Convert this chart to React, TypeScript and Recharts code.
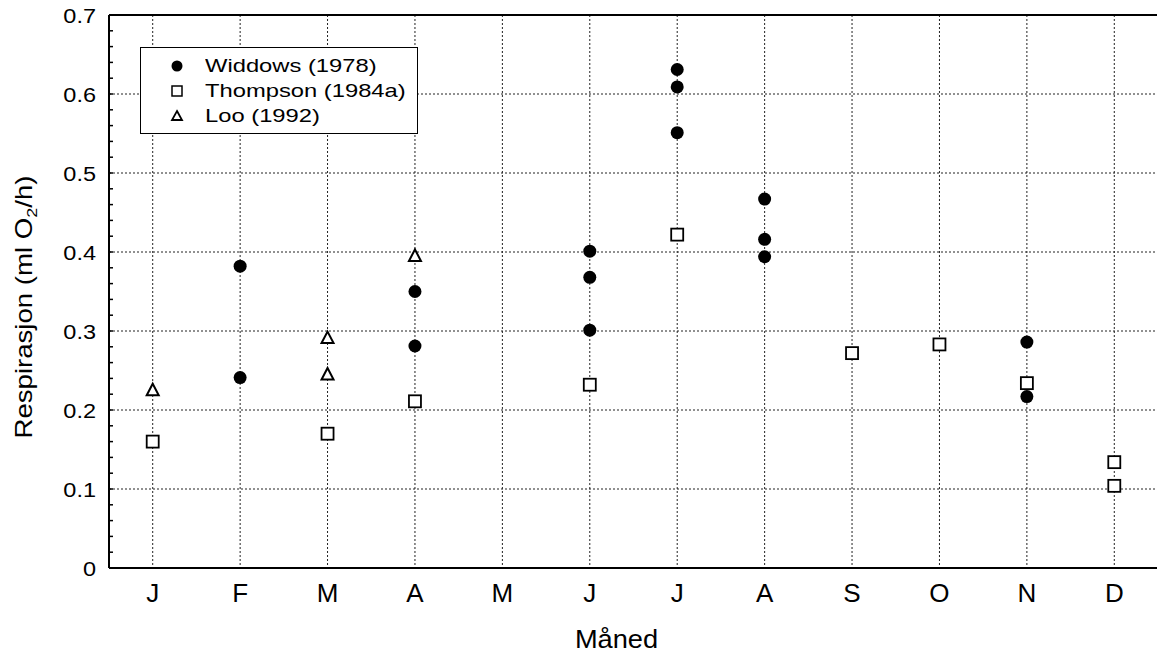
import { ScatterChart, Scatter, XAxis, YAxis, CartesianGrid, ReferenceLine, Legend, Label } from 'recharts';

const monthLabels = ['J', 'F', 'M', 'A', 'M', 'J', 'J', 'A', 'S', 'O', 'N', 'D'];
const monthIndex = [1, 2, 3, 4, 5, 6, 7, 8, 9, 10, 11, 12];
const yGridValues = [0.1, 0.2, 0.3, 0.4, 0.5, 0.6];

// Widdows (1978) - filled circles
const widdowsMonth = [2, 2, 4, 4, 6, 6, 6, 7, 7, 7, 8, 8, 8, 11, 11];
const widdowsValue = [0.382, 0.241, 0.35, 0.281, 0.401, 0.368, 0.301, 0.631, 0.609, 0.551, 0.467, 0.416, 0.394, 0.286, 0.217];

// Thompson (1984a) - open squares
const thompsonMonth = [1, 3, 4, 6, 7, 9, 10, 11, 12, 12];
const thompsonValue = [0.16, 0.17, 0.211, 0.232, 0.422, 0.272, 0.283, 0.234, 0.134, 0.104];

// Loo (1992) - open triangles
const looMonth = [1, 3, 3, 4];
const looValue = [0.225, 0.291, 0.245, 0.395];

const toPoints = (months: number[], values: number[]) => months.map((m, i) => ({ x: m, y: values[i] }));

const widdows = toPoints(widdowsMonth, widdowsValue);
const thompson = toPoints(thompsonMonth, thompsonValue);
const loo = toPoints(looMonth, looValue);

// minor ticks every 0.02
const yMinorTicks = Array.from({ length: 36 }, (_, i) => Number((i * 0.02).toFixed(2)));

const FONT = '"Liberation Sans", Arial, sans-serif';

const CircleShape = (props: any) => <circle cx={props.cx} cy={props.cy} r={6.5} fill="#000" />;
const SquareShape = (props: any) => (
    <rect x={props.cx - 6} y={props.cy - 6} width={12} height={12} fill="#fff" stroke="#000" strokeWidth={1.8} />
);
const TriangleShape = (props: any) => (
    <polygon
        points={`${props.cx},${props.cy - 6.5} ${props.cx + 6},${props.cy + 5} ${props.cx - 6},${props.cy + 5}`}
        fill="#fff"
        stroke="#000"
        strokeWidth={2}
    />
);

const YTick = (props: any) => {
    const { x, y, payload } = props;
    const v = payload.value;
    const major = Math.abs(v * 10 - Math.round(v * 10)) < 1e-6;
    return (
        <g>
            <line x1={x} x2={x + 4} y1={y} y2={y} stroke="#000" strokeWidth={1.5} />
            {major && (
                <text
                    transform={`translate(${x - 13},${y + 7.5}) scale(1.12,1)`}
                    textAnchor="end"
                    fontSize={21}
                    fontFamily={FONT}
                    fill="#000"
                >
                    {v === 0 ? '0' : v.toFixed(1)}
                </text>
            )}
        </g>
    );
};

const XTick = (props: any) => {
    const { x, y, payload } = props;
    return (
        <text x={x} y={y + 34} textAnchor="middle" fontSize={26} fontFamily={FONT} fill="#000">
            {monthLabels[payload.value - 1]}
        </text>
    );
};

const legendItems = [
    { name: 'Widdows (1978)', shape: 'circle' },
    { name: 'Thompson (1984a)', shape: 'square' },
    { name: 'Loo (1992)', shape: 'triangle' }
];

const LegendMarker = ({ shape }: { shape: string }) => (
    <svg width={14} height={14} style={{ display: 'block' }}>
        {shape === 'circle' && <circle cx={7} cy={7} r={5.5} fill="#000" />}
        {shape === 'square' && <rect x={2} y={2} width={10} height={10} fill="#fff" stroke="#000" strokeWidth={1.5} />}
        {shape === 'triangle' && <polygon points="7,2 12,11 2,11" fill="#fff" stroke="#000" strokeWidth={1.8} />}
    </svg>
);

const LegendBox = () => (
    <div
        style={{
            position: 'relative',
            width: 278,
            height: 87,
            border: '1.5px solid #000',
            background: '#fff',
            boxSizing: 'border-box',
            fontFamily: FONT
        }}
    >
        {legendItems.map((item, i) => (
            <div key={item.name} style={{ position: 'absolute', left: 0, top: 6 + i * 25, height: 24, display: 'flex', alignItems: 'center' }}>
                <div style={{ position: 'absolute', left: 29 }}>
                    <LegendMarker shape={item.shape} />
                </div>
                <span
                    style={{
                        position: 'absolute',
                        left: 64,
                        fontSize: 19,
                        lineHeight: '24px',
                        transform: 'scaleX(1.25)',
                        transformOrigin: 'left center',
                        whiteSpace: 'nowrap',
                        color: '#000'
                    }}
                >
                    {item.name}
                </span>
            </div>
        ))}
    </div>
);

const YLabel = (props: any) => {
    const vb = props.viewBox;
    return (
        <text
            transform={`translate(${vb.x + 32},307) rotate(-90) scale(1.2,1)`}
            textAnchor="middle"
            fontSize={23}
            fontFamily={FONT}
            fill="#000"
        >
            Respirasjon (ml O<tspan fontSize={15} dy={5}>2</tspan>
            <tspan dy={-5}>/h)</tspan>
        </text>
    );
};

const XLabel = (props: any) => {
    const vb = props.viewBox;
    return (
        <text
            transform={`translate(${vb.x + vb.width / 2 - 17},${vb.y + 80}) scale(1.09,1)`}
            textAnchor="middle"
            fontSize={25}
            fontFamily={FONT}
            fill="#000"
        >
            Måned
        </text>
    );
};

const App = () => {
    return (
        <div style={{ position: 'absolute', left: 0, top: 0, width: 1157, height: 655, overflow: 'hidden', background: '#fff' }}>
            <ScatterChart width={1170} height={655} margin={{ top: 15, right: 12, bottom: 0, left: 0 }}>
                {/* dotted grid at majors and months */}
                <CartesianGrid
                    stroke="#222"
                    strokeDasharray="2 2"
                    strokeWidth={1}
                    horizontalValues={yGridValues}
                    verticalValues={monthIndex}
                />

                <XAxis
                    type="number"
                    dataKey="x"
                    domain={[0.5, 12.5]}
                    ticks={monthIndex}
                    interval={0}
                    height={87}
                    tickSize={0}
                    tickMargin={0}
                    tickLine={false}
                    axisLine={{ stroke: '#000', strokeWidth: 2 }}
                    tick={<XTick />}
                >
                    <Label content={<XLabel />} />
                </XAxis>

                <YAxis
                    type="number"
                    dataKey="y"
                    domain={[0, 0.7]}
                    ticks={yMinorTicks}
                    interval={0}
                    width={109}
                    tickSize={0}
                    tickMargin={0}
                    tickLine={false}
                    axisLine={{ stroke: '#000', strokeWidth: 2 }}
                    tick={<YTick />}
                >
                    <Label content={<YLabel />} />
                </YAxis>

                {/* top frame */}
                <ReferenceLine y={0.7} stroke="#000" strokeWidth={2} />

                {/* middle/center so no space is reserved for the legend */}
                <Legend
                    verticalAlign="middle"
                    align="center"
                    layout="vertical"
                    wrapperStyle={{ left: 140, top: 47, width: 278, height: 87 }}
                    content={<LegendBox />}
                />

                <Scatter name="Widdows (1978)" data={widdows} shape={<CircleShape />} isAnimationActive={false} />
                <Scatter name="Thompson (1984a)" data={thompson} shape={<SquareShape />} isAnimationActive={false} />
                <Scatter name="Loo (1992)" data={loo} shape={<TriangleShape />} isAnimationActive={false} />
            </ScatterChart>
        </div>
    );
};

export default App;
